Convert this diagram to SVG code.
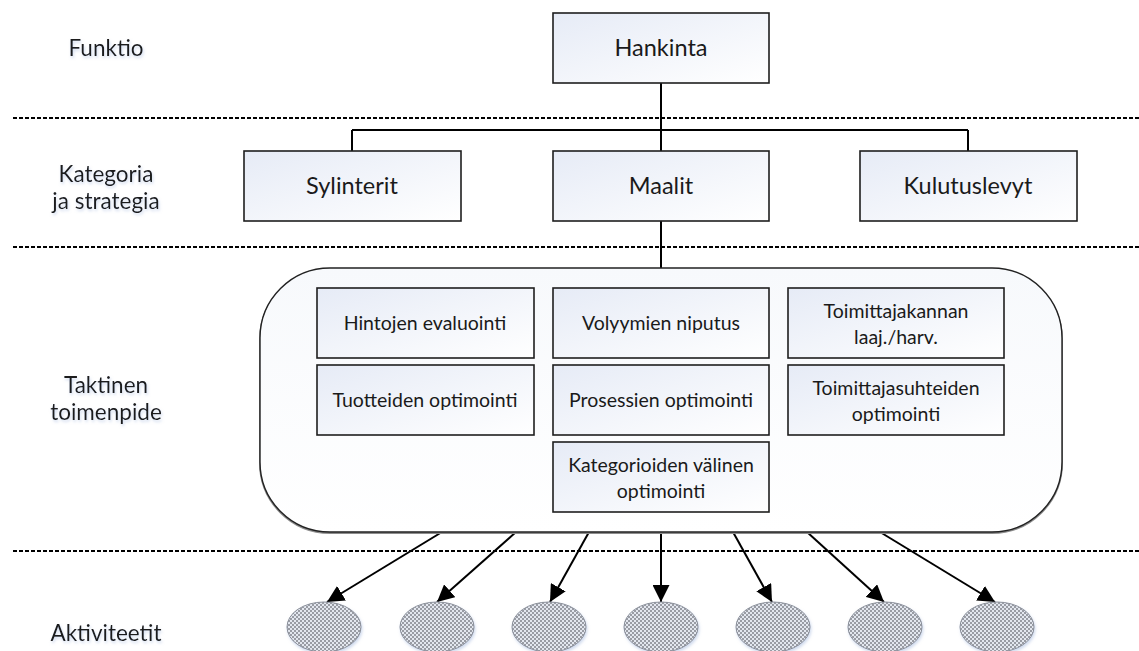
<svg xmlns="http://www.w3.org/2000/svg" width="1139" height="651" viewBox="0 0 1139 651">
  <defs>
    <linearGradient id="boxFill" x1="0" y1="0" x2="1" y2="1">
      <stop offset="0" stop-color="#e6ebf6"/>
      <stop offset="1" stop-color="#ffffff"/>
    </linearGradient>
    <linearGradient id="panelFill" x1="0" y1="0" x2="0" y2="1">
      <stop offset="0" stop-color="#f7f9fc"/>
      <stop offset="1" stop-color="#ffffff"/>
    </linearGradient>
    <pattern id="dots" width="4" height="4" patternUnits="userSpaceOnUse">
      <rect width="4" height="4" fill="#e3e7ef"/>
      <circle cx="1" cy="1" r="0.82" fill="#3a3d44"/>
      <circle cx="3" cy="3" r="0.82" fill="#3a3d44"/>
    </pattern>
    <marker id="arrow" viewBox="0 0 10 10" refX="10" refY="5" markerWidth="8.5" markerHeight="8.5" markerUnits="strokeWidth" orient="auto">
      <path d="M0,0 L10,5 L0,10 z" fill="#000"/>
    </marker>
    <filter id="glow" x="-20%" y="-40%" width="140%" height="180%">
      <feDropShadow dx="1" dy="2" stdDeviation="1.5" flood-color="#9fb4dc" flood-opacity="0.5"/>
    </filter>
  </defs>
  <style>
    .lbl { font-family: Lato, "Open Sans", "Liberation Sans", sans-serif; fill: #1a1a1a; text-anchor: middle; }
    .side { font-size: 22.5px; }
    .big { font-size: 23.5px; }
    .small { font-size: 19.5px; }
    .box { fill: url(#boxFill); stroke: #1e1e1e; stroke-width: 1.6; }
    .sep { stroke: #000; stroke-width: 2; stroke-dasharray: 4 2; fill: none; }
    .wire { stroke: #000; stroke-width: 2; fill: none; }
    .act { fill: url(#dots); stroke: #8a8f99; stroke-width: 1; }
  </style>

  <!-- level separators -->
  <g id="separators">
    <line class="sep" x1="13" y1="118" x2="1139" y2="118"/>
    <line class="sep" x1="13" y1="247" x2="1139" y2="247"/>
    <line class="sep" x1="13" y1="551" x2="1139" y2="551"/>
  </g>

  <!-- level titles -->
  <g id="levels" filter="url(#glow)">
    <text class="lbl side" x="106" y="56">Funktio</text>
    <text class="lbl side" x="106" y="182">Kategoria</text>
    <text class="lbl side" x="106" y="209">ja strategia</text>
    <text class="lbl side" x="106" y="393">Taktinen</text>
    <text class="lbl side" x="106" y="420">toimenpide</text>
    <text class="lbl side" x="106" y="641">Aktiviteetit</text>
  </g>

  <!-- connectors -->
  <g id="connectors">
    <path class="wire" d="M661,83 V130 M352,130 H968 M352,130 V151 M661,130 V151 M968,130 V151"/>
    <path class="wire" d="M661,221 V268"/>
    <line class="wire" x1="442" y1="532" x2="327" y2="602" marker-end="url(#arrow)"/>
    <line class="wire" x1="516" y1="532" x2="437" y2="602" marker-end="url(#arrow)"/>
    <line class="wire" x1="589" y1="532" x2="550" y2="602" marker-end="url(#arrow)"/>
    <line class="wire" x1="661" y1="532" x2="661" y2="602" marker-end="url(#arrow)"/>
    <line class="wire" x1="733" y1="532" x2="772" y2="602" marker-end="url(#arrow)"/>
    <line class="wire" x1="807" y1="532" x2="884" y2="602" marker-end="url(#arrow)"/>
    <line class="wire" x1="880" y1="532" x2="995" y2="602" marker-end="url(#arrow)"/>
  </g>

  <!-- function -->
  <g id="hankinta">
    <rect class="box" x="553" y="13" width="216" height="70"/>
    <text class="lbl big" x="661" y="56">Hankinta</text>
  </g>

  <!-- categories -->
  <g id="sylinterit">
    <rect class="box" x="244" y="151" width="217" height="70"/>
    <text class="lbl big" x="352" y="194">Sylinterit</text>
  </g>
  <g id="maalit">
    <rect class="box" x="553" y="151" width="216" height="70"/>
    <text class="lbl big" x="661" y="194">Maalit</text>
  </g>
  <g id="kulutuslevyt">
    <rect class="box" x="860" y="151" width="217" height="70"/>
    <text class="lbl big" x="968" y="194">Kulutuslevyt</text>
  </g>

  <!-- tactical measures panel -->
  <g id="toimenpiteet">
    <rect x="260" y="270" width="802" height="263" rx="70" ry="70" fill="none" stroke="#8c8c8c" stroke-width="2"/>
    <rect x="260" y="268" width="802" height="264" rx="70" ry="70" fill="url(#panelFill)" stroke="#222" stroke-width="1.4"/>
  </g>

  <g id="hintojen-evaluointi">
    <rect class="box" x="317" y="288" width="217" height="70"/>
    <text class="lbl small" x="425" y="330">Hintojen evaluointi</text>
  </g>
  <g id="volyymien-niputus">
    <rect class="box" x="553" y="288" width="216" height="70"/>
    <text class="lbl small" x="661" y="330">Volyymien niputus</text>
  </g>
  <g id="toimittajakannan">
    <rect class="box" x="788" y="288" width="216" height="70"/>
    <text class="lbl small" x="896" y="318">Toimittajakannan</text>
    <text class="lbl small" x="896" y="344">laaj./harv.</text>
  </g>
  <g id="tuotteiden-optimointi">
    <rect class="box" x="317" y="365" width="217" height="70"/>
    <text class="lbl small" x="425" y="407">Tuotteiden optimointi</text>
  </g>
  <g id="prosessien-optimointi">
    <rect class="box" x="553" y="365" width="216" height="70"/>
    <text class="lbl small" x="661" y="407">Prosessien optimointi</text>
  </g>
  <g id="toimittajasuhteiden-optimointi">
    <rect class="box" x="788" y="365" width="216" height="70"/>
    <text class="lbl small" x="896" y="395">Toimittajasuhteiden</text>
    <text class="lbl small" x="896" y="421">optimointi</text>
  </g>
  <g id="kategorioiden-valinen-optimointi">
    <rect class="box" x="553" y="442" width="216" height="70"/>
    <text class="lbl small" x="661" y="472">Kategorioiden välinen</text>
    <text class="lbl small" x="661" y="498">optimointi</text>
  </g>

  <!-- activities -->
  <g id="aktiviteetit" filter="url(#glow)">
    <ellipse id="akt-1" class="act" cx="324" cy="627" rx="37" ry="25"/>
    <ellipse id="akt-2" class="act" cx="437" cy="627" rx="37" ry="25"/>
    <ellipse id="akt-3" class="act" cx="549" cy="627" rx="37" ry="25"/>
    <ellipse id="akt-4" class="act" cx="661" cy="627" rx="37" ry="25"/>
    <ellipse id="akt-5" class="act" cx="773" cy="627" rx="37" ry="25"/>
    <ellipse id="akt-6" class="act" cx="885" cy="627" rx="37" ry="25"/>
    <ellipse id="akt-7" class="act" cx="997" cy="627" rx="37" ry="25"/>
  </g>
</svg>
